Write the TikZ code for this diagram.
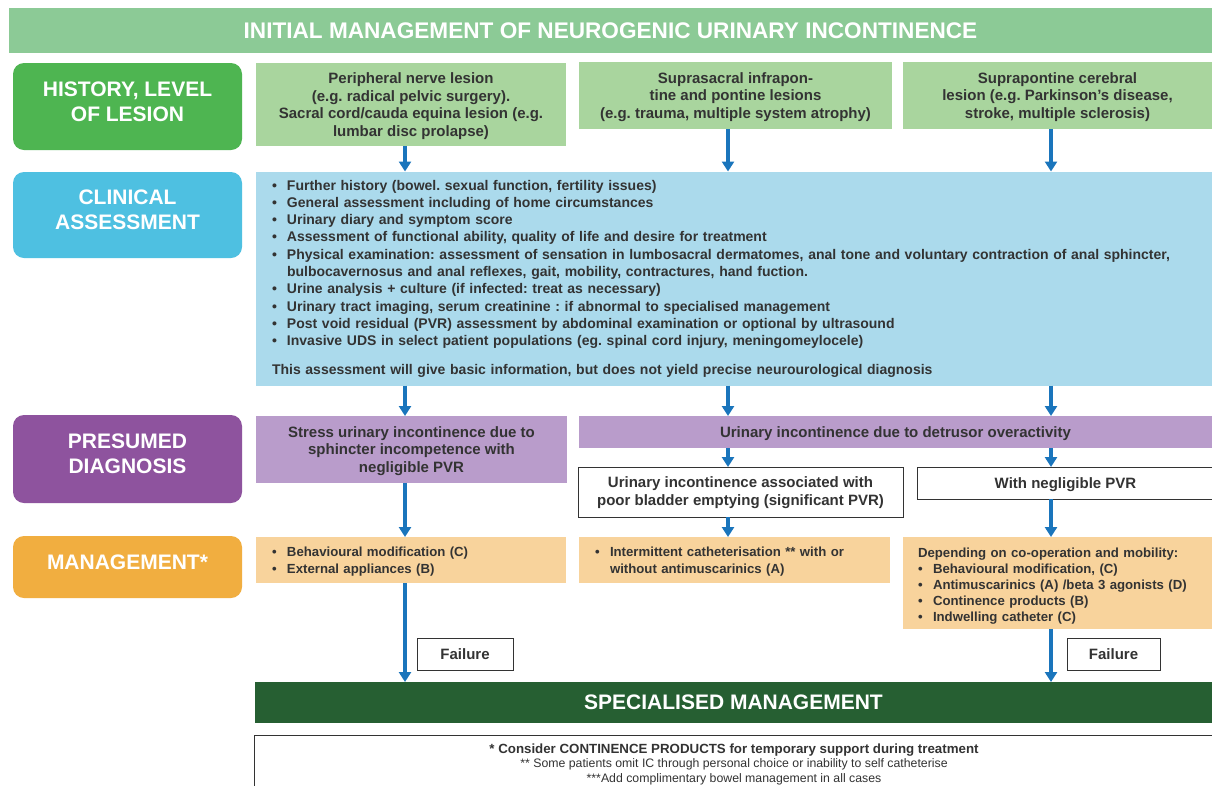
\documentclass[tikz,border=0pt]{standalone}
\usepackage{fontspec}
\setmainfont{Liberation Sans}
\usetikzlibrary{arrows.meta}
\definecolor{titlegreen}{HTML}{8CCA96}
\definecolor{histgreen}{HTML}{4EB551}
\definecolor{lightgreen}{HTML}{A9D59E}
\definecolor{clincyan}{HTML}{4EC0E1}
\definecolor{lightblue}{HTML}{ABDAEC}
\definecolor{prespurple}{HTML}{8E539E}
\definecolor{lavender}{HTML}{B99CCB}
\definecolor{mgmtorange}{HTML}{F1AE40}
\definecolor{lightorange}{HTML}{F8D39C}
\definecolor{darkgreen}{HTML}{265F32}
\definecolor{arrowblue}{HTML}{1A75BC}
\definecolor{txt}{HTML}{333333}
\newcommand{\bul}{\makebox[15pt][l]{\textbullet}}
\newcommand{\ind}{\hspace*{15pt}}
\frenchspacing
\begin{document}
\begin{tikzpicture}[x=1pt,y=-1pt,
  bx/.style={inner sep=0pt, outer sep=0pt, align=center, text=txt,
    font=\bfseries\fontsize{15}{17.5}\selectfont},
  box/.style={bx, text depth=-1.5pt},
  greenbox/.style={box, fill=lightgreen, text depth=-4.5pt},
  lbl/.style={inner sep=0pt, outer sep=0pt, rounded corners=11pt, align=center,
    text=white, minimum width=229, text depth=10pt,
    font=\bfseries\fontsize{21}{25}\selectfont},
  outlined/.style={box, draw=black!80, line width=1pt, fill=white},
  mgbox/.style={bx, fill=lightorange, align=left, text height=13.6pt,
    font=\bfseries\fontsize{13.2}{17}\selectfont},
  arr/.style={draw=arrowblue, line width=3.5pt, -{Triangle[width=12pt,length=10pt]}}
]
\useasboundingbox (0,0) rectangle (1212,785);
\fill[white] (0,0) rectangle (1212,785);

% title
\node[box, fill=titlegreen, text=white, minimum width=1203, minimum height=45, text depth=0pt,
  font=\bfseries\fontsize{22.6}{26}\selectfont] (title) at (610.5,30.5)
  {INITIAL MANAGEMENT OF NEUROGENIC URINARY INCONTINENCE};

% left labels
\node[lbl, fill=histgreen, minimum height=87] (hist) at (127.5,106.5) {HISTORY, LEVEL\\OF LESION};
\node[lbl, fill=clincyan, minimum height=86] (clinl) at (127.5,215) {CLINICAL\\ASSESSMENT};
\node[lbl, fill=prespurple, minimum height=88] (presl) at (127.5,459) {PRESUMED\\DIAGNOSIS};
\node[lbl, fill=mgmtorange, minimum height=62] (mgmtl) at (127.5,567) {MANAGEMENT*};

% column guides
\coordinate (cA) at (405,0);
\coordinate (cB) at (728,0);
\coordinate (cC) at (1051,0);

% history row
\node[greenbox, minimum width=310, minimum height=83] (b1) at (411,104.5)
  {Peripheral nerve lesion\\(e.g. radical pelvic surgery).\\Sacral cord/cauda equina lesion (e.g.\\lumbar disc prolapse)};
\node[greenbox, minimum width=313, minimum height=67] (b2) at (735.5,95.5)
  {Suprasacral infrapon-\\tine and pontine lesions\\(e.g. trauma, multiple system atrophy)};
\node[greenbox, minimum width=309, minimum height=67] (b3) at (1057.5,95.5)
  {Suprapontine cerebral\\lesion (e.g. Parkinson’s disease,\\stroke, multiple sclerosis)};

% clinical assessment
\node[bx, fill=lightblue, minimum width=956, minimum height=214, text width=924, align=left,
  font=\bfseries\fontsize{14}{17.3}\selectfont] (clin) at (734,278.5)
  {\mbox{\bul Further history (bowel. sexual function, fertility issues)}\\
   \mbox{\bul General assessment including of home circumstances}\\
   \mbox{\bul Urinary diary and symptom score}\\
   \mbox{\bul Assessment of functional ability, quality of life and desire for treatment}\\
   \mbox{\bul Physical examination: assessment of sensation in lumbosacral dermatomes, anal tone and voluntary contraction of anal sphincter,}\\
   \mbox{\ind bulbocavernosus and anal reflexes, gait, mobility, contractures, hand fuction.}\\
   \mbox{\bul Urine analysis + culture (if infected: treat as necessary)}\\
   \mbox{\bul Urinary tract imaging, serum creatinine : if abnormal to specialised management}\\
   \mbox{\bul Post void residual (PVR) assessment by abdominal examination or optional by ultrasound}\\
   \mbox{\bul Invasive UDS in select patient populations (eg. spinal cord injury, meningomeylocele)}\\[11pt]
   \mbox{This assessment will give basic information, but does not yield precise neurourological diagnosis}};

% presumed diagnosis
\node[box, fill=lavender, minimum width=311, minimum height=67] (stress) at (411.5,449.5)
  {Stress urinary incontinence due to\\sphincter incompetence with\\negligible PVR};
\node[box, fill=lavender, minimum width=633, minimum height=32] (detr) at (895.5,432)
  {Urinary incontinence due to detrusor overactivity};
\node[outlined, minimum width=325, minimum height=50, text depth=1.5pt] (poor) at (740.5,492)
  {Urinary incontinence associated with\\poor bladder emptying (significant PVR)};
\node[outlined, minimum width=297, minimum height=32] (negl) at (1065.5,483)
  {With negligible PVR};

% management
\node[mgbox, minimum width=310, minimum height=46, text width=278] (m1) at (411,560)
  {\bul Behavioural modification (C)\\\bul External appliances (B)};
\node[mgbox, minimum width=311, minimum height=46, text width=279] (m2) at (734.5,560)
  {\bul Intermittent catheterisation ** with or\\\ind without antimuscarinics (A)};
\node[mgbox, minimum width=309, minimum height=92, text width=279, text height=15.6pt,
  font=\bfseries\fontsize{13.2}{16}\selectfont] (m3) at (1057.5,583)
  {Depending on co-operation and mobility:\\\bul Behavioural modification, (C)\\\bul Antimuscarinics (A) /beta 3 agonists (D)\\\bul Continence products (B)\\\bul Indwelling catheter (C)};

% failure boxes
\node[outlined, minimum width=96, minimum height=32, text depth=0pt] (f1) at (465,654) {Failure};
\node[outlined, minimum width=93, minimum height=32, text depth=0pt] (f2) at (1113.5,654) {Failure};

% specialised
\node[box, fill=darkgreen, text=white, minimum width=957, minimum height=41, text depth=0pt,
  font=\bfseries\fontsize{21}{24}\selectfont] (spec) at (733.5,702.5) {SPECIALISED MANAGEMENT};

% footnote
\node[outlined, minimum width=960, minimum height=58, text depth=2.5pt,
  font=\fontsize{12.3}{14.5}\selectfont] (foot) at (734,764)
  {{\bfseries\fontsize{13.3}{14.5}\selectfont * Consider CONTINENCE PRODUCTS for temporary support during treatment}\\
   ** Some patients omit IC through personal choice or inability to self catheterise\\
   ***Add complimentary bowel management in all cases};

% arrows
\draw[arr] (b1.south -| cA) -- (clin.north -| cA);
\draw[arr] (b2.south -| cB) -- (clin.north -| cB);
\draw[arr] (b3.south -| cC) -- (clin.north -| cC);
\draw[arr] (clin.south -| cA) -- (stress.north -| cA);
\draw[arr] (clin.south -| cB) -- (detr.north -| cB);
\draw[arr] (clin.south -| cC) -- (detr.north -| cC);
\draw[arr] (detr.south -| cB) -- (poor.north -| cB);
\draw[arr] (detr.south -| cC) -- (negl.north -| cC);
\draw[arr] (stress.south -| cA) -- (m1.north -| cA);
\draw[arr] (poor.south -| cB) -- (m2.north -| cB);
\draw[arr] (negl.south -| cC) -- (m3.north -| cC);
\draw[arr] (m1.south -| cA) -- (spec.north -| cA);
\draw[arr] (m3.south -| cC) -- (spec.north -| cC);
\end{tikzpicture}
\end{document}
